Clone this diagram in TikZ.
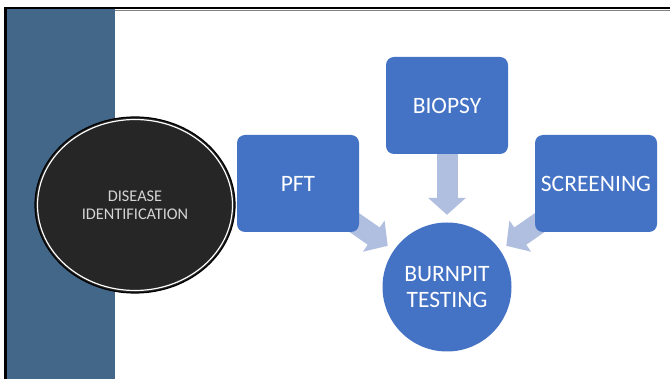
\documentclass[tikz,border=0pt]{standalone}
\usepackage{fontspec}
\setmainfont{Carlito}
\usetikzlibrary{arrows.meta,shapes.geometric}
\pgfdeclarelayer{background}
\pgfsetlayers{background,main}
\definecolor{sidebar}{HTML}{436789}
\definecolor{boxblue}{HTML}{4472C4}
\definecolor{arrowblue}{HTML}{B0BEE0}
\definecolor{darkfill}{HTML}{262626}
\definecolor{lighttext}{HTML}{D4D4D4}
\tikzset{
  bluebox/.style={rectangle, rounded corners=8pt, fill=boxblue, draw=none,
    minimum width=122pt, minimum height=97pt, text=white, inner sep=0pt,
    font=\fontsize{23.5}{26}\selectfont},
  bluecircle/.style={circle, fill=boxblue, draw=none, minimum size=129pt,
    text=white, inner sep=0pt, align=center, font=\fontsize{23.5}{26}\selectfont},
  darkcircle/.style={ellipse, fill=darkfill, draw=black, line width=1.2pt,
    minimum width=200pt, minimum height=176pt, text=lighttext, inner sep=0pt,
    align=center, font=\fontsize{16.3}{18}\selectfont},
  blockarrow/.style={draw=arrowblue, line width=21pt,
    -{Triangle[width=37pt,length=17pt]}, shorten >=7.5pt},
}
\begin{document}
\begin{tikzpicture}[x=1pt,y=-1pt]
  \useasboundingbox (0,0) rectangle (670,379);
  % nodes
  \node[bluecircle] (burn) at (447,287) {BURNPIT\\TESTING};
  \node[bluebox] (pft) at (298,183.5) {PFT};
  \node[bluebox] (biopsy) at (447,105.5) {BIOPSY};
  \node[bluebox] (screen) at (596,183.5) {SCREENING};
  \node[darkcircle] (disease) at (135,205) {DISEASE\\IDENTIFICATION};
  \draw[white, line width=1.2pt] (disease.center) ellipse [x radius=97.5pt, y radius=85.5pt];
  \begin{pgfonlayer}{background}
    \fill[white] (0,0) rectangle (670,379);
    % sidebar
    \fill[sidebar] (6,9) rectangle (115,379);
    % frame
    \draw[gray, line width=1pt] (115,10.5) -- (670,10.5);
    \draw[black, line width=2.5pt] (4,8) -- (670,8);
    \draw[black, line width=2.5pt] (5.5,8) -- (5.5,379);
    % arrows, behind the boxes
    \draw[blockarrow] (biopsy) -- (burn);
    \draw[blockarrow] (pft.center) -- (burn);
    \draw[blockarrow] (screen.center) -- (burn);
  \end{pgfonlayer}
\end{tikzpicture}
\end{document}
